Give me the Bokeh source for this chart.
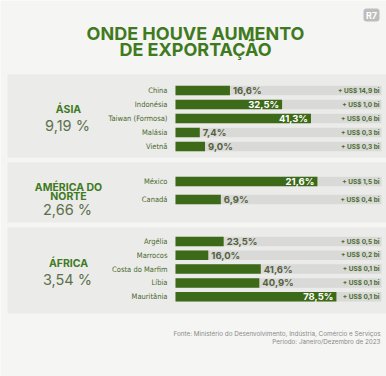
from bokeh.plotting import figure
from bokeh.models import Range1d, ColumnDataSource
from bokeh.core.properties import value
from bokeh.embed import file_html
from bokeh.resources import INLINE

# ---------------- data ----------------
title_lines = ["ONDE HOUVE AUMENTO", "DE EXPORTAÇÃO"]

asia_countries = ["China", "Indonésia", "Taiwan (Formosa)", "Malásia", "Vietnã"]
asia_pct = [16.6, 32.5, 41.3, 7.4, 9.0]
asia_usd = ["+ US$ 14,9 bi", "+ US$ 1,0 bi", "+ US$ 0,6 bi", "+ US$ 0,3 bi", "+ US$ 0,3 bi"]

na_countries = ["México", "Canadá"]
na_pct = [21.6, 6.9]
na_usd = ["+ US$ 1,5 bi", "+ US$ 0,4 bi"]

africa_countries = ["Argélia", "Marrocos", "Costa do Marfim", "Líbia", "Mauritânia"]
africa_pct = [23.5, 16.0, 41.6, 40.9, 78.5]
africa_usd = ["+ US$ 0,5 bi", "+ US$ 0,2 bi", "+ US$ 0,1 bi", "+ US$ 0,1 bi", "+ US$ 0,1 bi"]

region_names = [["ÁSIA"], ["AMÉRICA DO", "NORTE"], ["ÁFRICA"]]
region_growth = ["9,19 %", "2,66 %", "3,54 %"]

source_lines = ["Fonte: Ministério do Desenvolvimento, Indústria, Comércio e Serviços",
                "Período: Janeiro/Dezembro de 2023"]

# ---------------- styles / layout ----------------
W, H = 386, 376
BG = "#f5f5f3"
PANEL = "#ebebea"
TRACK = "#d9d9d8"
GREEN = "#3d6a18"
TITLE_GREEN = "#3f7a1e"
TXT_GREEN = "#4a6a2c"
BAR_X0 = 175
TRACK_X1 = 381
NARROW = value("'DejaVu Sans Condensed', 'Liberation Sans Narrow', Lato, sans-serif")

sections = [
    dict(name="asia", countries=asia_countries, pct=asia_pct, usd=asia_usd,
         k=3.28, top=74, bottom=157, y0=90, step=14,
         label_y=[109], growth_y=125),
    dict(name="na", countries=na_countries, pct=na_pct, usd=na_usd,
         k=6.57, top=162, bottom=222, y0=181, step=18,
         label_y=[186.5, 195.5], growth_y=208.5),
    dict(name="africa", countries=africa_countries, pct=africa_pct, usd=africa_usd,
         k=2.05, top=227, bottom=313, y0=241, step=13.8,
         label_y=[263], growth_y=279),
]

p = figure(width=W, height=H, x_range=Range1d(0, W), y_range=Range1d(H, 0),
           output_backend="svg", toolbar_location=None, min_border=0)
p.axis.visible = False
p.grid.visible = False
p.outline_line_color = None
p.background_fill_color = BG
p.border_fill_color = BG

# title
p.text(x=[195, 195], y=[32.5, 48.5], text=title_lines, text_align="center",
       text_baseline="middle", text_font=value("Inter"), text_font_style="bold",
       text_font_size="18px", text_color=TITLE_GREEN)

# R7 logo
p.rect(x=[371], y=[14.5], width=16, height=13, fill_color="#bdbdbd",
       line_color=None, border_radius=3)
p.text(x=[371], y=[15], text=["R7"], text_align="center", text_baseline="middle",
       text_font=value("Inter"), text_font_style="bold", text_font_size="9px",
       text_color="white")

for si, s in enumerate(sections):
    n = len(s["countries"])
    ys = [s["y0"] + s["step"] * i for i in range(n)]
    # panel
    p.quad(left=[7], right=[386], top=[s["top"]], bottom=[s["bottom"]],
           fill_color=PANEL, line_color=None)
    # region labels
    p.text(x=[68] * len(s["label_y"]), y=s["label_y"], text=region_names[si],
           text_align="center", text_baseline="middle", text_font=value("Inter"),
           text_font_style="bold", text_font_size="10.5px", text_color=TITLE_GREEN)
    p.text(x=[67], y=[s["growth_y"]], text=[region_growth[si]], text_align="center",
           text_baseline="middle", text_font=value("Inter"), text_font_size="14.5px",
           text_color="#5d7149")
    # tracks
    p.hbar(y=ys, left=BAR_X0, right=TRACK_X1, height=9.5, fill_color=TRACK,
           line_color=None)
    # bars on a section-specific scale
    k = s["k"]
    rname = s["name"]
    p.extra_x_ranges[rname] = Range1d(-BAR_X0 / k, (W - BAR_X0) / k)
    mx = max(s["pct"])
    inside = [v / mx > 0.6 for v in s["pct"]]
    src = ColumnDataSource(dict(y=ys, pct=s["pct"]))
    p.hbar(y="y", left=0, right="pct", height=9.5, source=src, fill_color=GREEN,
           line_color=None, x_range_name=rname)
    fmt = lambda v: f"{v:.1f}".replace(".", ",") + "%"
    src_in = ColumnDataSource(dict(
        y=[y for y, f in zip(ys, inside) if f],
        x=[v for v, f in zip(s["pct"], inside) if f],
        t=[fmt(v) for v, f in zip(s["pct"], inside) if f]))
    src_out = ColumnDataSource(dict(
        y=[y for y, f in zip(ys, inside) if not f],
        x=[v for v, f in zip(s["pct"], inside) if not f],
        t=[fmt(v) for v, f in zip(s["pct"], inside) if not f]))
    p.text(x="x", y="y", text="t", source=src_in, x_range_name=rname, x_offset=-3,
           text_align="right", text_baseline="middle", text_font=value("Inter"),
           text_font_style="bold", text_font_size="9.5px", text_color="white")
    p.text(x="x", y="y", text="t", source=src_out, x_range_name=rname, x_offset=3,
           text_align="left", text_baseline="middle", text_font=value("Inter"),
           text_font_style="bold", text_font_size="9.5px", text_color="#55613f")
    # country labels
    p.text(x=[167] * n, y=ys, text=s["countries"], text_align="right",
           text_baseline="middle", text_font=NARROW, text_font_size="7.5px",
           text_color=TXT_GREEN)
    # usd labels
    p.text(x=[379] * n, y=ys, text=s["usd"], text_align="right",
           text_baseline="middle", text_font=value("Inter"), text_font_style="bold",
           text_font_size="6.5px", text_color=TXT_GREEN)

# footer
p.text(x=[380, 380], y=[333, 341], text=source_lines, text_align="right",
       text_baseline="middle", text_font=value("Inter"), text_font_size="6.3px",
       text_color="#8a8a8a")

open("out.html", "w").write(file_html(p, INLINE))
